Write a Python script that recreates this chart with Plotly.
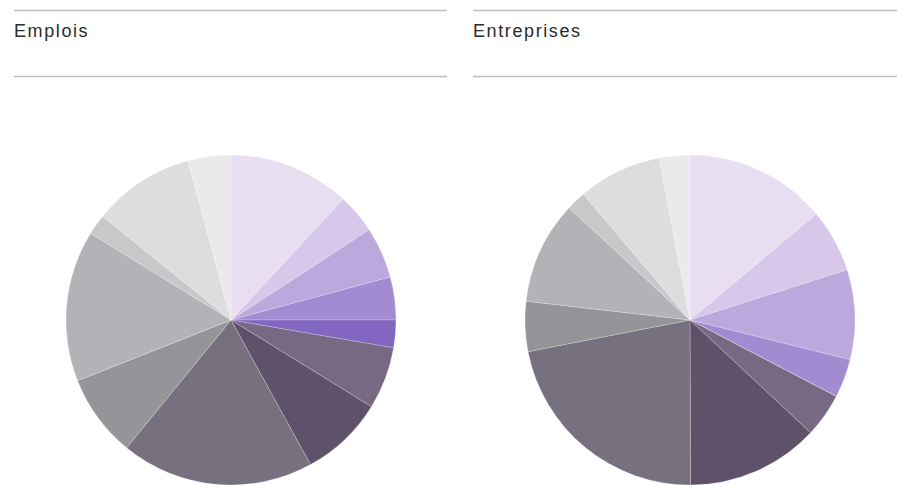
import plotly.graph_objects as go

W, H = 897, 485

categories = [f"Secteur {i}" for i in range(1, 14)]
emplois = [11.9, 3.9, 5.0, 4.2, 2.7, 6.1, 8.2, 18.9, 8.1, 14.8, 2.0, 10.0, 4.2]
entreprises = [13.9, 6.2, 8.8, 3.8, 0.0, 4.3, 13.0, 22.0, 4.9, 10.1, 1.9, 8.2, 3.0]
titles = ["Emplois", "Entreprises"]

colors = ["#E7DEF2", "#D7C7EA", "#BCA8DC", "#A38BD2", "#8266C2", "#776883",
          "#5E5169", "#77707E", "#949598", "#B2B3B6", "#C7C8CA", "#DCDDDF", "#EAEAEC"]

def px_x(v):
    return v / W

def px_y(v):
    return 1 - v / H

fig = go.Figure()
centers = [231, 690]
R = 165
cy = 320
for vals, cx in zip([emplois, entreprises], centers):
    fig.add_trace(go.Pie(
        labels=categories, values=vals, sort=False, direction="clockwise",
        rotation=0, textinfo="none", hoverinfo="label+percent",
        marker=dict(colors=colors, line=dict(color="rgba(255,255,255,0.45)", width=0.5)),
        domain=dict(x=[px_x(cx - R), px_x(cx + R)], y=[max(0, px_y(cy + R)), px_y(cy - R)]),
        showlegend=False,
    ))

shapes = []
annotations = []
for (x0, x1), t in zip([(14, 447), (473, 897)], titles):
    for yy in (10.5, 76.5):
        shapes.append(dict(type="line", xref="paper", yref="paper",
                           x0=px_x(x0), x1=px_x(x1), y0=px_y(yy), y1=px_y(yy),
                           line=dict(color="#BDBDBD", width=1.5)))
    annotations.append(dict(text=f'<span style="letter-spacing:1.6px">{t}</span>',
                            xref="paper", yref="paper", x=px_x(x0 - 2), y=px_y(30.5),
                            xanchor="left", yanchor="middle", showarrow=False,
                            font=dict(family="Liberation Sans, Arial, sans-serif", size=18, color="#2b2b2b")))

fig.update_layout(width=W, height=H, margin=dict(l=0, r=0, t=0, b=0),
                  paper_bgcolor="white", plot_bgcolor="white",
                  shapes=shapes, annotations=annotations)

fig.write_html("out.html", config={"displayModeBar": False},
               post_script="document.body.style.margin='0';")
